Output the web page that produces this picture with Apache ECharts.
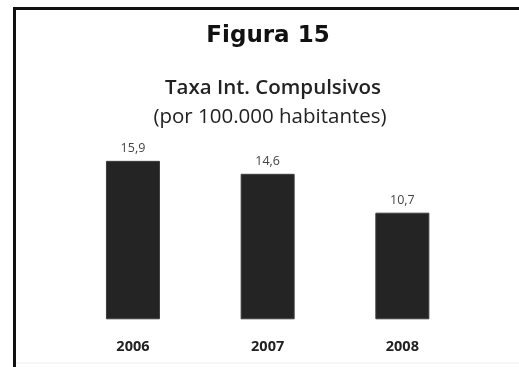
<!DOCTYPE html>
<html>
<head>
<meta charset="utf-8">
<script src="https://cdn.jsdelivr.net/npm/echarts@6/dist/echarts.min.js"></script>
<style>
html,body{margin:0;padding:0;background:#fff;}
#chart{width:519px;height:367px;}
</style>
</head>
<body>
<div id="chart"></div>
<script>
var categories = ['2006', '2007', '2008'];
var values = [15.9, 14.6, 10.7];
var figureTitle = 'Figura 15';
var chartTitle = 'Taxa Int. Compulsivos';
var chartSubtitle = '(por 100.000 habitantes)';

var chart = echarts.init(document.getElementById('chart'), null, {renderer: 'canvas'});
chart.setOption({
  backgroundColor: '#ffffff',
  animation: false,
  graphic: [
    {type: 'line', shape: {x1: 14.5, y1: 8.5, x2: 519, y2: 8.5}, style: {stroke: '#111', lineWidth: 3}},
    {type: 'line', shape: {x1: 14.5, y1: 7, x2: 14.5, y2: 367}, style: {stroke: '#111', lineWidth: 3}},
    {type: 'line', shape: {x1: 16, y1: 363, x2: 519, y2: 363}, style: {stroke: '#eeeeee', lineWidth: 1}}
  ],
  title: [
    {text: figureTitle, left: 263, top: 20, textAlign: 'center',
     textStyle: {fontFamily: 'DejaVu Sans', fontWeight: 'bold', fontSize: 23, color: '#111'}},
    {text: chartTitle, left: 268, top: 73, textAlign: 'center',
     textStyle: {fontFamily: 'Open Sans', fontWeight: 600, fontSize: 20.5, color: '#222'}},
    {text: chartSubtitle, left: 265, top: 102, textAlign: 'center',
     textStyle: {fontFamily: 'Open Sans', fontWeight: 'normal', fontSize: 20.5, color: '#222'}}
  ],
  grid: {left: 65.6, right: 49.3, top: 120, bottom: 47.7, containLabel: false},
  xAxis: {
    type: 'category',
    data: categories,
    axisLine: {show: false},
    axisTick: {show: false},
    axisLabel: {margin: 20, fontFamily: 'Open Sans', fontWeight: 'bold', fontSize: 14.5, color: '#222'}
  },
  yAxis: {
    type: 'value', min: 0, max: 20, interval: 5,
    show: false,
    splitLine: {show: false}
  },
  series: [{
    type: 'bar',
    data: values,
    barWidth: 54,
    itemStyle: {color: '#242424', borderColor: '#3c3c3c', borderWidth: 1},
    label: {
      show: true, position: 'top', distance: 6,
      formatter: function (p) { return String(p.value.toFixed(1)).replace('.', ','); },
      fontFamily: 'Open Sans', fontSize: 12.5, color: '#444'
    }
  }]
});
</script>
</body>
</html>
